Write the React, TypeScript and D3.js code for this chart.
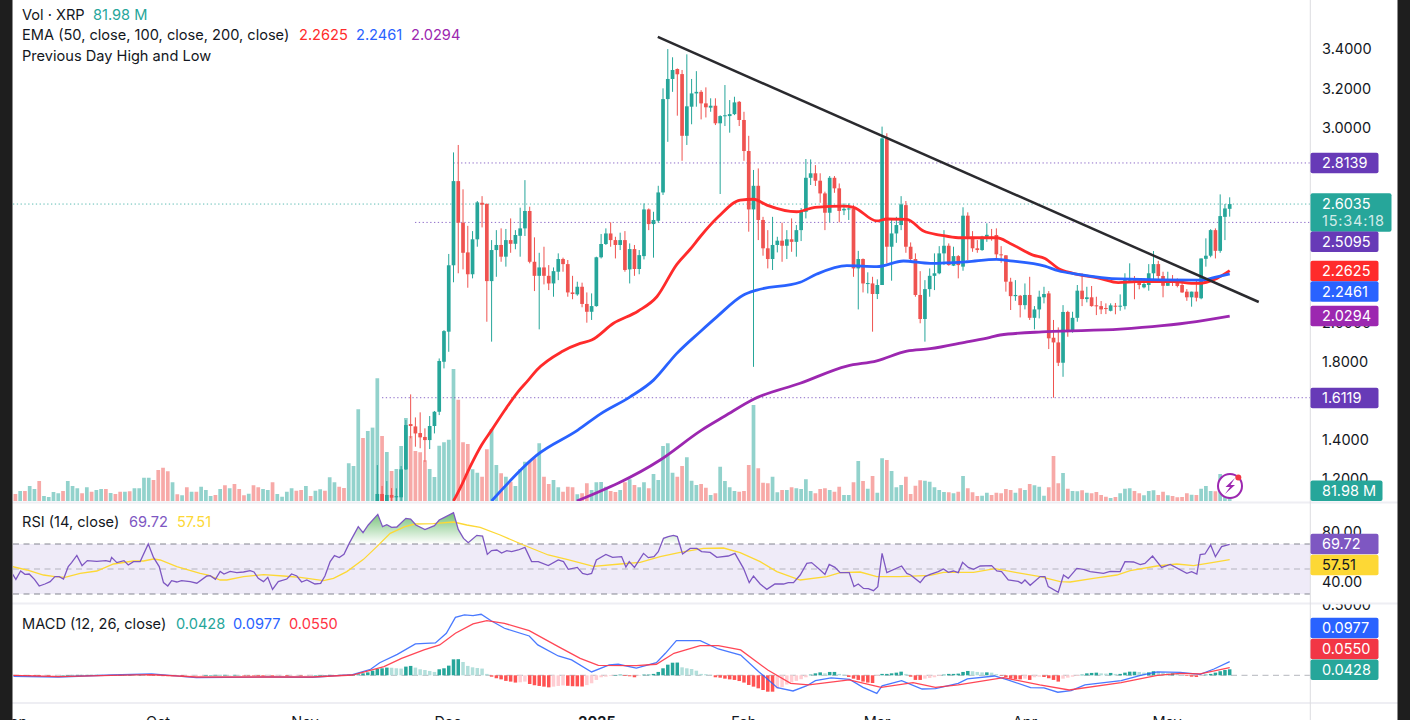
import React from "react";
import * as d3 from "d3";

// ---------- candles (last 180 sessions; earlier ones sit below the visible range)
const candleHigh = [1.267,1.16,1.185,1.149,1.148,1.262,1.498,1.629,1.511,1.537,1.455,1.518,1.544,1.813,1.958,2.348,2.868,2.906,2.679,2.492,2.465,2.619,2.644,2.607,2.419,2.47,2.479,2.476,2.53,2.47,2.585,2.726,2.59,2.433,2.354,2.385,2.291,2.279,2.351,2.329,2.317,2.236,2.206,2.201,2.151,2.146,2.334,2.45,2.479,2.51,2.436,2.457,2.465,2.402,2.394,2.368,2.607,2.581,2.564,2.697,3.196,3.397,3.355,3.298,3.29,3.37,3.244,3.284,3.187,3.201,3.145,3.145,3.058,3.213,3.136,3.153,3.131,3.076,2.953,2.778,2.786,2.538,2.47,2.538,2.436,2.508,2.47,2.53,2.496,2.583,2.834,2.832,2.803,2.761,2.667,2.747,2.747,2.709,2.607,2.607,2.598,2.364,2.325,2.254,2.231,2.218,3.0,2.966,2.522,2.538,2.644,2.619,2.407,2.351,2.26,2.214,2.274,2.351,2.388,2.47,2.402,2.385,2.342,2.587,2.561,2.465,2.419,2.441,2.505,2.476,2.479,2.388,2.342,2.226,2.214,2.138,2.197,2.231,2.081,2.16,2.18,2.158,2.01,1.972,2.086,2.057,2.052,2.189,2.249,2.18,2.184,2.129,2.107,2.095,2.095,2.097,2.141,2.249,2.3,2.235,2.223,2.223,2.296,2.363,2.313,2.257,2.257,2.24,2.223,2.218,2.168,2.155,2.214,2.325,2.428,2.475,2.479,2.653,2.604,2.638];
const candleLow = [1.083,1.083,1.083,1.083,1.083,1.083,1.242,1.404,1.361,1.353,1.284,1.349,1.429,1.523,1.762,1.847,2.203,2.249,2.269,2.175,2.223,2.385,2.484,2.001,1.899,2.231,2.308,2.283,2.354,2.372,2.334,2.44,2.3,2.158,1.962,2.192,2.163,2.129,2.214,2.257,2.129,2.116,2.134,2.075,1.996,2.01,2.078,2.325,2.394,2.385,2.325,2.368,2.257,2.197,2.236,2.244,2.32,2.47,2.329,2.508,2.65,2.922,3.178,3.056,2.825,2.906,3.012,3.102,3.037,3.047,3.076,3.008,2.655,3.003,2.969,3.059,3.003,2.825,2.462,1.77,2.419,2.339,2.274,2.266,2.356,2.308,2.322,2.359,2.334,2.414,2.53,2.701,2.696,2.61,2.47,2.51,2.661,2.51,2.547,2.522,2.231,2.064,2.151,2.146,1.95,2.117,2.189,2.3,2.211,2.405,2.47,2.354,2.308,2.129,1.993,1.899,2.129,2.163,2.244,2.291,2.288,2.286,2.223,2.262,2.317,2.359,2.354,2.364,2.41,2.416,2.325,2.303,2.155,2.061,2.108,2.023,2.064,2.01,1.962,2.018,2.095,1.861,1.6119,1.774,1.719,1.924,1.945,2.001,2.081,2.1,2.078,2.035,2.04,2.04,2.054,2.039,2.057,2.064,2.199,2.116,2.167,2.172,2.16,2.218,2.218,2.126,2.185,2.184,2.177,2.149,2.108,2.078,2.105,2.116,2.283,2.331,2.325,2.354,2.419,2.539];
const candleOpen = [1.083,1.119,1.083,1.114,1.102,1.102,1.245,1.477,1.465,1.431,1.411,1.395,1.467,1.54,1.796,1.95,2.29,2.721,2.508,2.356,2.244,2.423,2.61,2.604,2.209,2.368,2.394,2.334,2.419,2.4,2.441,2.479,2.568,2.308,2.236,2.279,2.236,2.197,2.257,2.322,2.296,2.151,2.141,2.18,2.092,2.052,2.081,2.331,2.399,2.453,2.419,2.394,2.419,2.269,2.373,2.271,2.337,2.576,2.501,2.518,2.663,3.141,3.244,3.295,3.269,2.953,3.102,3.17,3.178,3.119,3.097,3.107,3.017,3.053,3.054,3.064,3.127,3.034,2.875,2.576,2.697,2.522,2.377,2.322,2.394,2.416,2.39,2.423,2.41,2.47,2.564,2.738,2.761,2.723,2.658,2.559,2.738,2.684,2.571,2.576,2.581,2.274,2.322,2.194,2.197,2.143,2.189,2.94,2.385,2.453,2.496,2.598,2.385,2.322,2.138,2.015,2.168,2.236,2.249,2.351,2.39,2.288,2.337,2.283,2.544,2.436,2.377,2.368,2.436,2.436,2.445,2.346,2.341,2.206,2.132,2.134,2.086,2.138,2.021,2.064,2.126,2.146,1.919,1.895,1.791,2.051,1.958,2.021,2.16,2.117,2.126,2.085,2.081,2.071,2.057,2.083,2.078,2.081,2.211,2.214,2.206,2.177,2.189,2.249,2.296,2.235,2.185,2.218,2.211,2.189,2.155,2.126,2.155,2.121,2.323,2.339,2.47,2.364,2.538,2.579];
const candleClose = [1.119,1.083,1.114,1.1,1.108,1.245,1.472,1.467,1.429,1.409,1.395,1.467,1.54,1.8,1.953,2.29,2.721,2.508,2.354,2.244,2.423,2.612,2.6,2.209,2.368,2.394,2.334,2.419,2.4,2.445,2.479,2.568,2.308,2.236,2.279,2.236,2.197,2.26,2.322,2.296,2.151,2.143,2.18,2.092,2.052,2.081,2.331,2.399,2.453,2.419,2.394,2.419,2.266,2.373,2.271,2.342,2.576,2.501,2.522,2.663,3.141,3.244,3.29,3.268,2.953,3.104,3.17,3.178,3.119,3.099,3.107,3.017,3.054,3.058,3.064,3.124,3.034,2.875,2.576,2.697,2.522,2.377,2.322,2.394,2.416,2.39,2.423,2.41,2.47,2.564,2.738,2.761,2.723,2.658,2.559,2.738,2.684,2.568,2.579,2.581,2.274,2.322,2.197,2.199,2.143,2.189,2.94,2.385,2.453,2.496,2.602,2.385,2.322,2.138,2.015,2.168,2.236,2.249,2.351,2.39,2.291,2.337,2.291,2.544,2.436,2.377,2.368,2.436,2.446,2.433,2.346,2.341,2.206,2.132,2.138,2.086,2.138,2.021,2.064,2.129,2.143,1.916,1.895,1.791,2.051,1.958,2.021,2.16,2.117,2.126,2.081,2.08,2.064,2.066,2.085,2.078,2.083,2.214,2.22,2.206,2.189,2.194,2.249,2.296,2.235,2.185,2.218,2.206,2.184,2.151,2.126,2.155,2.124,2.325,2.339,2.47,2.364,2.542,2.581,2.6035];

// ---------- volume, in millions
const volumeEarly = [56,80,80,120,96,160,40,32,72,62,80,160,120,102,62,110,74,88,96,96,64,56,74,74,78,102,102,186,186,168,248,266,238,150,54,46,110,74,74,114,88,40,48,96,126,102,136,96,46,58,126,110,96,88,150,56,34,74,102,82,88,120,40,82,94,82,190,150,114,104,302,280,734,504,560,587];
const volumeEarlySides = "rgrggrggggrgggrgrggrgrrgrggggrrrrgrgrgrgggrgrgrrrgrrggrggggrrgrggrggrrgggrgg";
const volumeLate = [982,520,392,240,256,440,664,520,400,390,326,256,192,442,470,490,1056,810,470,456,254,226,194,414,576,288,222,194,154,120,254,314,322,342,462,194,136,168,110,74,114,110,54,62,142,88,150,152,114,80,72,88,150,174,128,110,150,102,216,168,440,462,226,194,280,350,162,128,136,106,48,62,274,160,110,80,74,80,288,768,262,146,142,194,70,88,88,110,102,96,174,80,62,96,102,88,74,114,48,48,150,320,160,98,200,66,342,328,240,110,128,194,56,122,166,162,154,110,88,72,70,62,74,200,102,70,40,42,66,48,66,62,96,88,66,102,88,136,126,114,42,110,360,142,224,98,80,78,86,66,62,72,48,34,24,32,62,98,102,80,62,46,80,86,48,74,46,40,30,32,62,50,48,98,120,80,78,216,160,81.98];

// ---------- moving averages: [bar index, price]
const ema50: [number, number][] = [[92,1.083],[93.4,1.149],[95.5,1.259],[97.9,1.37],[100,1.446],[102.8,1.549],[105.5,1.641],[107.7,1.702],[109.5,1.754],[114.7,1.847],[118.6,1.89],[121,1.907],[125.6,1.993],[130.8,2.056],[134.7,2.129],[138.9,2.295],[141.7,2.372],[143.8,2.436],[147.6,2.538],[152.2,2.624],[155,2.628],[157.8,2.598],[164.1,2.564],[167.9,2.587],[173.9,2.593],[176,2.587],[180.9,2.517],[183,2.527],[187.2,2.525],[190.7,2.465],[194.2,2.445],[198,2.431],[206.1,2.431],[208.9,2.402],[213.7,2.342],[216.2,2.325],[219,2.274],[222.1,2.249],[227.7,2.223],[231.6,2.201],[235.5,2.206],[243.1,2.206],[248,2.197],[252.3,2.223],[255,2.2625]];
const ema100: [number, number][] = [[100,1.083],[109.5,1.318],[118.1,1.446],[122.8,1.528],[129,1.615],[134,1.702],[138.9,1.839],[143.8,1.95],[147.3,2.026],[152.9,2.138],[155.7,2.163],[164.8,2.203],[168.3,2.245],[174.6,2.288],[180.9,2.283],[186.5,2.312],[192.1,2.3],[199.8,2.308],[206,2.32],[208.9,2.313],[216.2,2.286],[219,2.262],[222.9,2.245],[232,2.22],[248.8,2.214],[252.3,2.231],[255,2.2461]];
const ema200: [number, number][] = [[117.9,1.083],[135.4,1.293],[144.1,1.446],[149,1.518],[155,1.604],[164.8,1.686],[174.6,1.774],[180.9,1.801],[187.2,1.851],[192.1,1.863],[199.8,1.898],[204.7,1.921],[206.8,1.933],[216.6,1.95],[232,1.963],[248,2.001],[255,2.0294]];
const trendLine: [number, number][] = [[134.9,3.459],[261.1,2.102]];

// ---------- RSI: [bar index, value]
const rsiLine: [number, number][] = [[-0.6,46],[0.1,41.7],[1.1,48.4],[2,45.7],[2.9,46],[4,41.7],[5,36.4],[6.2,38],[7.3,39.9],[8.3,43.9],[9.2,43.9],[10.1,42],[11.1,51.9],[11.8,55.1],[12.9,60.9],[14,52.7],[15.1,56.7],[17.1,56.1],[19,56.7],[19.9,55.9],[20.2,59.3],[21.3,55.1],[22.8,56.7],[23.7,53.2],[24.8,55.9],[26.2,55.9],[27.9,70],[29,59.3],[30.2,51.9],[31.1,39.1],[32,36.4],[32.8,40.7],[33.9,39.6],[34.9,40.7],[36.7,39.9],[38.1,38.6],[40.2,44.4],[40.9,44.7],[42,41.7],[43,48.1],[43.8,46],[45.1,48.1],[46.5,47.1],[47.9,47.6],[49.3,48.7],[50.1,47.6],[51,42.5],[52.1,39.9],[53,43.3],[54,33.7],[55.2,39.9],[57,42],[58,46],[59.1,44.4],[60.1,39.6],[61.2,41.2],[62.9,38],[64.1,38.5],[65,44.4],[66.1,55.9],[67,60.7],[68,59.1],[69,61.7],[70.1,70.5],[72,83.9],[73,79.1],[74.1,85.2],[76.1,93.7],[77.1,83.9],[78,85.5],[79,83.3],[80.1,83.6],[82,90.5],[83,90],[84.1,85.2],[86,81.5],[88,84.7],[89,89.2],[90,91.1],[92,95.1],[93,81.7],[94.1,74.5],[95.1,71],[96.9,76.9],[98.1,76.4],[99.1,61.7],[100,64.7],[101.1,65.2],[102.1,62.8],[103.2,64.7],[104.2,63.9],[105.6,65.2],[107,67.3],[108.4,55.9],[109.8,55.9],[111.9,52.7],[114,57.2],[115.1,55.9],[116.1,49.7],[118,51.3],[119.1,46.5],[120.1,45.5],[121,46.5],[122,57.2],[124,61.7],[125.4,59.3],[127.3,59.9],[128.2,51.6],[128.9,55.9],[130,51.3],[131.9,62.5],[132.9,59.1],[134.1,59.9],[135,63.9],[136.1,74.5],[137.1,75.9],[138.2,76.9],[139,75.9],[140.1,62],[141.7,66.5],[143.1,66.5],[144.1,63.9],[145.9,63.3],[147.3,59.3],[149.7,60.4],[151.1,62.5],[152.9,50.5],[154.1,39.1],[155,44.4],[156.4,38],[157.8,33.7],[159.5,38],[161.3,38],[162.3,39.1],[163.4,39.1],[164.8,45.2],[166.2,54.5],[167.2,55.1],[169,49.2],[170,45.7],[170.9,53.7],[172.1,51.3],[173.2,47.1],[175.1,47.1],[176.1,35.9],[177,38],[178.1,34.5],[179.1,34.3],[180.2,32.7],[181.1,35.9],[182,62.5],[183,47.1],[186.1,52.4],[187.2,46.5],[188,45.2],[190,39.1],[191,43.9],[192.1,45.7],[193.8,47.9],[194.9,50],[195.9,47.3],[197,48.4],[198,47.1],[198.9,55.3],[200.1,51.3],[201.2,49.7],[202.6,52.4],[205,52.7],[206.1,48.4],[207.1,47.9],[208.5,41.2],[210.6,40.1],[211.3,38.5],[212,41.2],[213.1,37],[215.2,43.9],[216.2,43.9],[216.9,35.9],[219,31.4],[220.1,45.2],[221.1,42.5],[222.9,50.5],[224.3,49.7],[225.7,47.9],[228.5,46.5],[229.9,48.1],[232,47.9],[233,55.9],[234.8,55.6],[236.2,53.5],[237.2,54.5],[238.8,60.4],[240.7,51.3],[242.5,53.7],[246,46.5],[247,47.9],[248.1,46],[248.8,61.5],[249.8,62],[251,69.2],[252,59.9],[253.3,67.9],[255,69.72]];
const rsiAverage: [number, number][] = [[-0.6,51.9],[2.4,49.2],[5.9,45.2],[8.3,43.9],[10.4,43.3],[13.6,46.5],[17.1,48.4],[20.6,54],[24.8,56.4],[26.9,56.4],[29,58],[30.4,57.2],[33.9,51.9],[38.8,46.5],[40.5,45.2],[43,41.2],[44.4,41.2],[47.9,43.9],[52.1,45.5],[56.3,44.4],[59.8,43.3],[64.7,40.7],[66.8,42.5],[69.6,47.9],[73.1,57.7],[75.9,67.9],[78.7,78.5],[81.8,83.9],[83.9,86],[87.8,86.3],[92,87.6],[94.8,85.2],[97.6,83.3],[101.8,77.2],[106.7,69.2],[111.9,61.2],[115.8,57.7],[121.4,52.1],[127,54],[131.2,55.3],[135.4,59.9],[139.6,63.3],[144.5,66.5],[148.7,66.8],[152.2,63.1],[156.4,55.9],[159.9,47.9],[164.8,41.2],[170.4,43.9],[173.2,47.1],[177.4,47.6],[180.9,43.9],[185.8,43.9],[192.1,44.9],[194.9,47.3],[201.2,47.3],[205.7,50.3],[210.3,47.1],[215.2,43.9],[219.4,39.9],[221.5,39.6],[226.4,42.5],[231.3,45.2],[234.1,48.7],[239.7,52.4],[243.9,54],[247.4,52.7],[251.6,55.3],[255,57.51]];

// ---------- MACD: [bar index, value] and one histogram value per bar
const macdLine: [number, number][] = [[-0.4,-0.007],[9,-0.012],[20.2,0.002],[28.6,0.01],[38,-0.017],[53,-0.012],[62.4,-0.014],[70.8,0.005],[74.6,0.043],[76.5,0.09],[80.2,0.15],[84,0.224],[88.2,0.231],[90.5,0.3],[92.4,0.414],[94.3,0.431],[96.1,0.426],[97.8,0.436],[99.9,0.39],[102.7,0.336],[107.9,0.281],[109.7,0.217],[114,0.138],[116.8,0.11],[121,0.024],[124.7,0.074],[126.6,0.079],[130.4,0.052],[134.6,0.09],[136.5,0.157],[138.8,0.248],[143.8,0.248],[147.6,0.188],[152.3,0.145],[156.1,0.026],[160,-0.088],[163.3,-0.112],[166.1,-0.076],[168,-0.038],[171.3,-0.019],[175.2,-0.029],[178,-0.086],[180.9,-0.129],[182,-0.076],[186.1,-0.038],[190.4,-0.098],[193.2,-0.095],[198,-0.057],[199.9,-0.026],[205.6,-0.005],[208.4,-0.033],[213.2,-0.088],[216,-0.09],[218.9,-0.121],[221.7,-0.11],[224.6,-0.069],[232.2,-0.038],[236.5,0.002],[239.8,0.024],[244.6,0.021],[248.8,0.007],[251.7,0.045],[255,0.0977]];
const macdSignal: [number, number][] = [[-0.4,0],[9,-0.01],[20.2,0],[28.6,0.005],[38,-0.012],[53,-0.012],[62.4,-0.012],[70.8,0.002],[77.4,0.062],[81.1,0.121],[85.8,0.181],[89.1,0.217],[92.4,0.3],[96.1,0.367],[99,0.39],[102.7,0.371],[107.9,0.319],[114,0.205],[118.6,0.121],[122.4,0.071],[130.4,0.069],[134.6,0.079],[138.3,0.157],[143.8,0.212],[147.6,0.212],[152.3,0.181],[158,0.038],[162.8,-0.057],[166.6,-0.069],[175.1,-0.033],[181.8,-0.086],[188.5,-0.052],[193.2,-0.086],[198,-0.069],[207.5,-0.017],[215.1,-0.069],[221.3,-0.105],[232.2,-0.052],[239.8,0],[244.6,0.014],[248.8,0.01],[255,0.055]];
const macdHist = [-0.004,-0.004,-0.004,-0.005,-0.005,-0.005,-0.004,-0.004,-0.003,-0.002,0.001,0.002,0.003,0.003,0.003,0.003,0.003,0.003,0.002,0.002,0.002,0.003,0.003,0.003,0.003,0.002,0.003,0.002,-0.002,-0.004,-0.005,-0.006,-0.006,-0.006,-0.005,-0.005,-0.004,-0.003,-0.002,-0.001,0.001,0.002,0.003,0.003,0.003,0.002,0.003,0.002,-0.001,-0.003,-0.004,-0.005,-0.006,-0.005,-0.006,-0.005,-0.004,-0.005,-0.004,-0.003,-0.003,-0.002,-0.001,0.001,0.002,0.002,0.003,0.002,0.003,0.003,0.004,0.005,
0.007,0.014,0.021,0.033,0.045,0.05,0.055,0.054,0.05,0.048,0.062,0.067,0.055,0.043,0.038,0.031,0.024,0.043,0.05,0.069,0.114,0.115,0.095,0.067,0.057,0.052,0.048,0.01,-0.01,-0.021,-0.029,-0.04,-0.045,-0.052,-0.05,-0.045,-0.062,-0.071,-0.076,-0.081,-0.086,-0.081,-0.076,-0.072,-0.075,-0.078,-0.079,-0.08,-0.07,-0.057,-0.033,-0.014,-0.01,-0.005,0,0.005,-0.005,-0.007,-0.014,-0.001,0.005,0.005,0.01,0.024,0.05,0.076,0.09,0.091,0.057,0.05,0.045,0.033,
0.01,0.008,0.004,-0.014,-0.017,-0.024,-0.029,-0.033,-0.041,-0.052,-0.069,-0.081,-0.093,-0.105,-0.117,-0.117,-0.095,-0.085,-0.066,-0.052,-0.04,-0.028,-0.014,0.005,0.014,0.021,0.014,0.024,0.024,0.01,0.005,-0.012,-0.024,-0.033,-0.045,-0.052,-0.055,-0.005,0.01,0.01,0.014,0.019,0.026,0.01,-0.01,-0.033,-0.033,-0.024,-0.019,-0.014,-0.005,0.005,0.01,0.01,0.012,0.024,0.031,0.029,0.024,0.021,0.021,0.019,0.008,-0.002,-0.014,-0.024,-0.029,-0.029,-0.024,-0.033,-0.014,-0.01,-0.012,-0.021,-0.033,-0.045,-0.024,-0.017,-0.01,-0.005,0.005,0.014,0.017,0.019,0.014,0.012,0.017,0.01,0.01,0.019,0.026,0.026,0.024,0.019,0.021,0.029,0.024,0.019,0.014,0.014,0.01,0.002,-0.005,-0.01,-0.012,-0.002,0.005,0.01,0.019,0.029,0.038,0.0428];

// ---------- axis labels (ticks that lie wholly under a price tag are not shown)
const priceTicks = [3.4,3.2,3.0,2.0,1.8,1.4,1.2];
const rsiTicks = [80,40];
const macdTicks = [0.5,0];
const monthLabels: [string, number, boolean][] = [["Sep",14,false],["Oct",158,false],["Nov",305,false],["Dec",448,false],["2025",597,true],["Feb",744,false],["Mar",877,false],["Apr",1025,false],["May",1167,false]];
const levelHigh = 2.8139, levelMid = 2.5095, levelLow = 1.6119, lastPrice = 2.6035;

const GREEN = "#26a69a", RED = "#ef5350", FONT = "Inter, 'Noto Sans', sans-serif";
const PLOT_R = 1310;
const x = d3.scaleLinear().domain([0, 255]).range([15.4, 1229.7]);
const yPrice = d3.scaleLinear().domain([3.4, 1.2]).range([48.5, 478.16]);
const yVol = d3.scaleLinear().domain([0, 8]).range([501, 500]);
const yRsi = d3.scaleLinear().domain([70, 30]).range([544, 594]);
const yMacd = d3.scaleLinear().domain([0, 0.5]).range([675.3, 605.3]);
const FIRST_CANDLE = 76;

const pathOf = (pts: [number, number][], y: (v: number) => number, curve: d3.CurveFactory = d3.curveLinear) =>
  d3.line<[number, number]>().x(d => x(d[0])).y(d => y(d[1])).curve(curve)(pts) as string;

function Tag({ y, label, fill, color = "#fff", w = 68, h = 20.5 }: any) {
  return (
    <g>
      <rect x={1310.5} y={y - h / 2} width={w} height={h} rx={2} fill={fill} />
      <text x={1322} y={y + 1.5} dominantBaseline="middle" fontSize={14.5} fill={color} fontFamily={FONT}>{label}</text>
    </g>
  );
}

export default function App() {
  const up = candleClose.map((c, i) => c >= candleOpen[i]);
  const volumes = [...volumeEarly, ...volumeLate];
  const rsiAbove = d3.area<[number, number]>().x(d => x(d[0])).y0(yRsi(70)).y1(d => yRsi(d[1]))(rsiLine) as string;
  const legend = (tx: number, ty: number, s: string, fill = "#131722") => (
    <text x={tx} y={ty + 1.5} dominantBaseline="middle" fontSize={14.6} fill={fill} fontFamily={FONT}>{s}</text>
  );
  return (
    <svg width={1410} height={720} style={{ position: "absolute", left: 0, top: 0 }}>
      <defs>
        <clipPath id="pricePane"><rect x={13} y={0} width={PLOT_R - 13} height={501} /></clipPath>
        <clipPath id="rsiPane"><rect x={13} y={504} width={PLOT_R - 13} height={98} /></clipPath>
        <clipPath id="obClip"><rect x={13} y={504} width={PLOT_R - 13} height={40} /></clipPath>
        <clipPath id="macdPane"><rect x={13} y={604} width={PLOT_R - 13} height={98} /></clipPath>
        <clipPath id="macdAxis"><rect x={1311} y={604} width={90} height={98} /></clipPath>
        <clipPath id="bottomClip"><rect x={0} y={704} width={1410} height={16} /></clipPath>
        <linearGradient id="obFill" gradientUnits="userSpaceOnUse" x1={0} x2={0} y1={512} y2={544}>
          <stop offset="0" stopColor="#4caf50" stopOpacity={0.8} />
          <stop offset="1" stopColor="#4caf50" stopOpacity={0} />
        </linearGradient>
      </defs>
      <rect width={1410} height={720} fill="#fff" />

      {/* axis labels sit underneath the tags */}
      {priceTicks.map(t => (
        <text key={t} x={1322} y={yPrice(t) + 2} dominantBaseline="middle" fontSize={14.5} fill="#131722" fontFamily={FONT}>{t.toFixed(4)}</text>
      ))}
      {rsiTicks.map(t => (
        <text key={t} x={1322} y={yRsi(t) + 2} dominantBaseline="middle" fontSize={14.5} fill="#131722" fontFamily={FONT}>{t.toFixed(2)}</text>
      ))}
      <g clipPath="url(#macdAxis)">
        {macdTicks.map(t => (
          <text key={t} x={1322} y={yMacd(t) + 0.5} dominantBaseline="middle" fontSize={14.5} fill="#131722" fontFamily={FONT}>{t.toFixed(4)}</text>
        ))}
      </g>

      {/* price pane */}
      <g clipPath="url(#pricePane)">
        {volumes.map((v, i) => {
          const isUp = i < FIRST_CANDLE ? volumeEarlySides[i] === "g" : up[i - FIRST_CANDLE];
          return <rect key={i} x={x(i) - 1.85} width={3.7} y={yVol(v)} height={501 - yVol(v)} fill={isUp ? GREEN : RED} fillOpacity={0.5} />;
        })}
        <line x1={13} x2={PLOT_R} y1={yPrice(lastPrice)} y2={yPrice(lastPrice)} stroke={GREEN} strokeOpacity={0.75} strokeDasharray="1.3 2.5" />
        <line x1={x(FIRST_CANDLE + 16)} x2={PLOT_R} y1={yPrice(levelHigh)} y2={yPrice(levelHigh)} stroke="#673ab7" strokeOpacity={0.75} strokeDasharray="1.3 2.5" />
        <line x1={415} x2={PLOT_R} y1={yPrice(levelMid)} y2={yPrice(levelMid)} stroke="#673ab7" strokeOpacity={0.75} strokeDasharray="1.3 2.5" />
        <line x1={382} x2={PLOT_R} y1={yPrice(levelLow)} y2={yPrice(levelLow)} stroke="#673ab7" strokeOpacity={0.75} strokeDasharray="1.3 2.5" />
        {candleHigh.map((h, k) => {
          const cx = x(FIRST_CANDLE + k);
          const c = up[k] ? GREEN : RED;
          const top = yPrice(Math.max(candleOpen[k], candleClose[k]));
          const bot = yPrice(Math.min(candleOpen[k], candleClose[k]));
          return (
            <g key={k}>
              <line x1={cx} x2={cx} y1={yPrice(h)} y2={yPrice(candleLow[k])} stroke={c} strokeWidth={1} />
              <rect x={cx - 1.85} width={3.7} y={top} height={Math.max(bot - top, 1)} fill={c} />
            </g>
          );
        })}
        <path d={pathOf(ema50, yPrice, d3.curveMonotoneX)} fill="none" stroke="#ff2b2b" strokeWidth={2.8} />
        <path d={pathOf(ema100, yPrice, d3.curveMonotoneX)} fill="none" stroke="#2962ff" strokeWidth={2.8} />
        <path d={pathOf(ema200, yPrice, d3.curveMonotoneX)} fill="none" stroke="#9c27b0" strokeWidth={2.8} />
        <path d={pathOf(trendLine, yPrice)} fill="none" stroke="#2a2a2e" strokeWidth={2.5} />
      </g>

      {/* RSI pane */}
      <rect x={13} y={yRsi(70)} width={PLOT_R - 13} height={yRsi(30) - yRsi(70)} fill="#7e57c2" fillOpacity={0.12} />
      <path d={rsiAbove} fill="url(#obFill)" clipPath="url(#obClip)" />
      {[70, 50, 30].map(l => (
        <line key={l} x1={13} x2={PLOT_R} y1={yRsi(l)} y2={yRsi(l)} stroke="#787b86" strokeOpacity={l === 50 ? 0.5 : 0.9} strokeWidth={1} strokeDasharray="6 4.5" />
      ))}
      <g clipPath="url(#rsiPane)">
        <path d={pathOf(rsiAverage, yRsi)} fill="none" stroke="#fdd835" strokeWidth={1.3} />
        <path d={pathOf(rsiLine, yRsi)} fill="none" stroke="#7e57c2" strokeWidth={1.3} />
      </g>

      {/* MACD pane */}
      <g clipPath="url(#macdPane)">
        <line x1={13} x2={PLOT_R} y1={yMacd(0)} y2={yMacd(0)} stroke="#787b86" strokeOpacity={0.55} strokeDasharray="6 4.5" />
        {macdHist.map((v, i) => {
          const prev = i ? macdHist[i - 1] : 0;
          const fill = v >= 0 ? (v >= prev ? GREEN : "#b2dfdb") : (v <= prev ? "#ff5252" : "#ffcdd2");
          const y0 = yMacd(Math.max(v, 0));
          return <rect key={i} x={x(i) - 1.75} width={3.5} y={y0} height={Math.max(Math.abs(yMacd(v) - yMacd(0)), 0.5)} fill={fill} />;
        })}
        <path d={pathOf(macdLine, yMacd)} fill="none" stroke="#2962ff" strokeOpacity={0.85} strokeWidth={1.3} />
        <path d={pathOf(macdSignal, yMacd)} fill="none" stroke="#ff3344" strokeOpacity={0.9} strokeWidth={1.3} />
      </g>

      {/* separators and axis line */}
      <line x1={0} x2={1410} y1={502.5} y2={502.5} stroke="#eeeef3" strokeWidth={2} />
      <line x1={0} x2={1410} y1={603.5} y2={603.5} stroke="#eeeef3" strokeWidth={2} />
      <line x1={0} x2={1410} y1={703} y2={703} stroke="#eeeef3" strokeWidth={2} />
      <line x1={1310.3} x2={1310.3} y1={0} y2={720} stroke="#dcdce0" strokeWidth={1} />

      {/* months */}
      <g clipPath="url(#bottomClip)">
        {monthLabels.map(([s, px, bold]) => (
          <text key={s} x={px} y={727} textAnchor="middle" fontSize={14.5} fontWeight={bold ? 700 : 400} fill="#131722" fontFamily={FONT}>{s}</text>
        ))}
      </g>

      {/* legends */}
      {legend(22, 14.5, "Vol · XRP")}
      {legend(93, 14.5, "81.98 M", GREEN)}
      {legend(22, 35, "EMA (50, close, 100, close, 200, close)")}
      {legend(299, 35, "2.2625", "#ff2b2b")}
      {legend(356, 35, "2.2461", "#2962ff")}
      {legend(411, 35, "2.0294", "#9c27b0")}
      {legend(22, 56, "Previous Day High and Low")}
      {legend(22, 522, "RSI (14, close)")}
      {legend(129, 522, "69.72", "#7e57c2")}
      {legend(177, 522, "57.51", "#fdd835")}
      {legend(22, 624, "MACD (12, 26, close)")}
      {legend(176, 624, "0.0428", GREEN)}
      {legend(233, 624, "0.0977", "#2962ff")}
      {legend(289, 624, "0.0550", "#ff3344")}

      {/* icon */}
      <circle cx={1230} cy={486} r={12} fill="#fff" stroke="#9c27b0" strokeWidth={2} />
      <path d="M1235 478 L1225.5 487 L1230 487 L1225 494 L1235 485 L1230.5 485 Z" fill="#9c27b0" />
      <circle cx={1238.3} cy={477.5} r={3} fill="#f23645" />

      {/* price tags */}
      <Tag y={163} label="2.8139" fill="#673ab7" />
      <rect x={1310.5} y={193.3} width={81} height={38.4} rx={2} fill={GREEN} />
      <text x={1322} y={205} dominantBaseline="middle" fontSize={14.5} fill="#fff" fontFamily={FONT}>2.6035</text>
      <text x={1322} y={222} dominantBaseline="middle" fontSize={14.5} letterSpacing={0.8} fill="#fff" fillOpacity={0.8} fontFamily={FONT}>15:34:18</text>
      <Tag y={241.7} label="2.5095" fill="#673ab7" />
      <Tag y={271} label="2.2625" fill="#ff2b2b" />
      <Tag y={291.5} label="2.2461" fill="#2962ff" />
      <Tag y={316} label="2.0294" fill="#9c27b0" />
      <Tag y={398} label="1.6119" fill="#673ab7" />
      <Tag y={490.7} label="81.98 M" fill={GREEN} w={72} />
      <Tag y={544} label="69.72" fill="#7e57c2" />
      <Tag y={565} label="57.51" fill="#fdd835" color="#131722" />
      <Tag y={628} label="0.0977" fill="#2962ff" />
      <Tag y={649} label="0.0550" fill="#f23645" />
      <Tag y={669.7} label="0.0428" fill={GREEN} />

      {/* window edges */}
      <rect x={0} y={0} width={12.5} height={720} fill="#1e1e1e" />
      <rect x={1397.5} y={0} width={12.5} height={720} fill="#1e1e1e" />
    </svg>
  );
}
